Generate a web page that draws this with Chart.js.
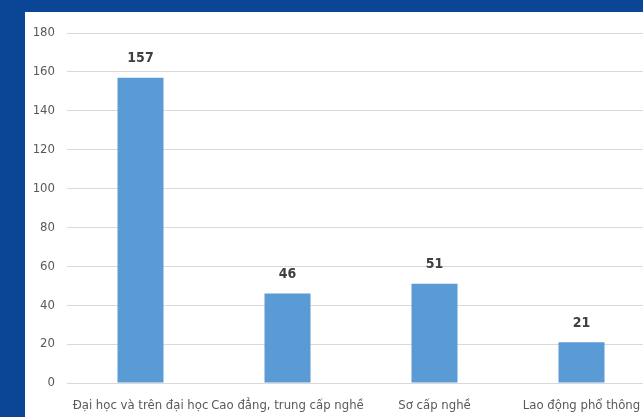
<!DOCTYPE html>
<html>
<head>
<meta charset="utf-8">
<script src="https://cdn.jsdelivr.net/npm/chart.js@4"></script>
<style>
  html, body { margin: 0; padding: 0; width: 643px; height: 417px; overflow: hidden; background: #0b4595; }
  #panel { position: absolute; left: 25px; top: 12px; width: 640px; height: 405px; background: #ffffff; }
</style>
</head>
<body>
<div id="panel"><canvas id="myChart"></canvas></div>
<script>
const categories = ['Đại học và trên đại học', 'Cao đẳng, trung cấp nghề', 'Sơ cấp nghề', 'Lao động phổ thông'];
const values = [157, 46, 51, 21];
const yTicks = [0, 20, 40, 60, 80, 100, 120, 140, 160, 180];

const fontFamily = "'Liberation Sans Narrow', 'DejaVu Sans Condensed', Roboto, sans-serif";

// draws the numbers above each bar
let valueLabels = {
    id: 'valueLabels',
    afterDatasetsDraw(chart) {
        let ctx = chart.ctx;
        let meta = chart.getDatasetMeta(0);
        ctx.save();
        ctx.font = 'bold 14px ' + fontFamily;
        ctx.fillStyle = '#404040';
        ctx.textAlign = 'center';
        ctx.textBaseline = 'middle';
        meta.data.forEach((bar, i) => {
            ctx.fillText(values[i], bar.x, bar.y - 19);
        });
        ctx.restore();
    }
};

let ctx = document.getElementById('myChart').getContext('2d');
let chart = new Chart(ctx, {
    type: 'bar',
    data: {
        labels: categories,
        datasets: [{
            data: values,
            backgroundColor: '#5b9bd5',
            borderWidth: 0,
            categoryPercentage: 1,
            barPercentage: 0.313
        }]
    },
    options: {
        responsive: true,
        maintainAspectRatio: false,
        animation: false,
        layout: { padding: { top: 21, right: 10, bottom: 0, left: 0 } },
        plugins: {
            legend: { display: false },
            tooltip: { enabled: false }
        },
        scales: {
            x: {
                grid: { display: false, drawTicks: false },
                border: { display: false },
                ticks: {
                    color: '#595959',
                    font: { family: fontFamily, size: 13 },
                    padding: 15,
                    maxRotation: 0,
                    autoSkip: false
                },
                afterFit: (scale) => { scale.height = 34; }
            },
            y: {
                min: 0,
                max: 180,
                afterBuildTicks: (scale) => { scale.ticks = yTicks.map(v => ({ value: v })); },
                grid: { color: '#d9d9d9', lineWidth: 1, drawTicks: false },
                border: { display: false },
                ticks: {
                    color: '#595959',
                    font: { family: fontFamily, size: 13 },
                    padding: 12
                },
                afterFit: (scale) => { scale.width = 42; }
            }
        }
    },
    plugins: [valueLabels]
});
</script>
</body>
</html>
